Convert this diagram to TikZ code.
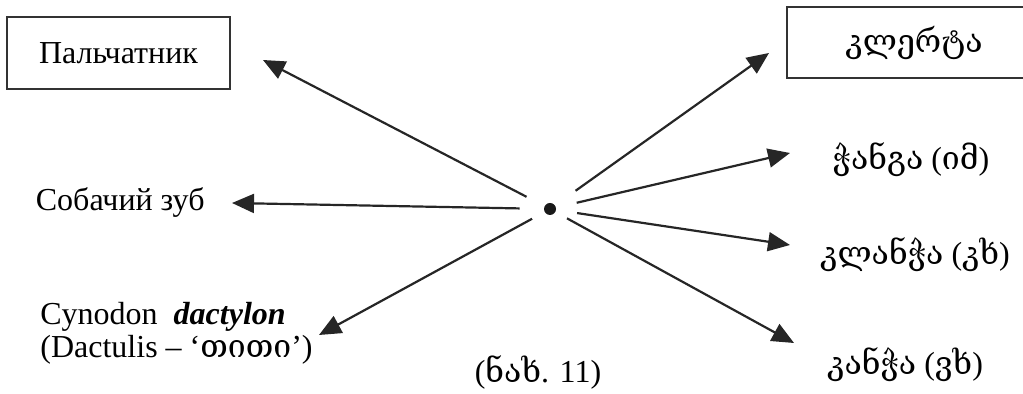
\documentclass[tikz,border=0pt]{standalone}
\usepackage{fontspec}
\setmainfont{Liberation Serif}
\newfontfamily\geo{DejaVu Serif}
\usetikzlibrary{positioning, arrows.meta}
\tikzset{
  arr/.style={-{Triangle[length=11pt,width=9.5pt]}, line width=1.1pt, draw=black!85, shorten <=10pt},
  blk/.style={draw=black!80, line width=0.9pt, inner sep=0pt},
  lab/.style={inner sep=1pt, align=left}
}

\begin{document}
\begin{tikzpicture}[x=0.5pt, y=-0.5pt, font=\fontsize{16}{16.5}\selectfont]
\useasboundingbox (0,0) rectangle (1023,394);
\node[circle, fill=black!90, inner sep=0pt, minimum size=6pt] (ctr) at (550,209) {};
% left side
\node[blk, minimum width=111.5pt, minimum height=36pt] (pal) at (118.5,53) {Пальчатник};
\node[lab, anchor=east] (zub) at (207,203) {Собачий зуб};
\node[lab, anchor=west] (cyn) at (38,333)
  {Cynodon\ \ \textbf{\textit{dactylon}}\\(Dactulis – ‘{\geo თითი}’)};
% right side (box runs off the page)
\node[blk, minimum width=127pt, minimum height=35.5pt] (klr) at (914,42.5) {{\geo კლერტა}\hspace{9pt}};
\node[lab] (chan) at (911,160) {{\geo ჭანგა} ({\geo იმ})};
\node[lab] (klan) at (915,255) {{\geo კლანჭა} ({\geo კხ})};
\node[lab] (kan) at (905,365) {{\geo კანჭა} ({\geo ვხ})};
\node[lab] (nax) at (538,372) {({\geo ნახ}. 11)};
% arrow tips
\coordinate (tpal) at (263,60);
\coordinate (tzub) at (232,203);
\coordinate (tcyn) at (319,335);
\coordinate (tklr) at (769,53);
\coordinate (tchan) at (790,153);
\coordinate (tklan) at (790,245);
\coordinate (tkan) at (794,343);
\draw[arr] (ctr) -- (tpal);
\draw[arr, shorten <=12pt] (ctr) -- (tzub);
\draw[arr, shorten <=7pt] (ctr) -- (tcyn);
\draw[arr, shorten <=12.5pt] (ctr) -- (tklr);
\draw[arr, shorten <=10.5pt] (ctr) -- (tchan);
\draw[arr, shorten <=10.5pt] (ctr) -- (tklan);
\draw[arr, shorten <=6.5pt] (ctr) -- (tkan);
\end{tikzpicture}
\end{document}
